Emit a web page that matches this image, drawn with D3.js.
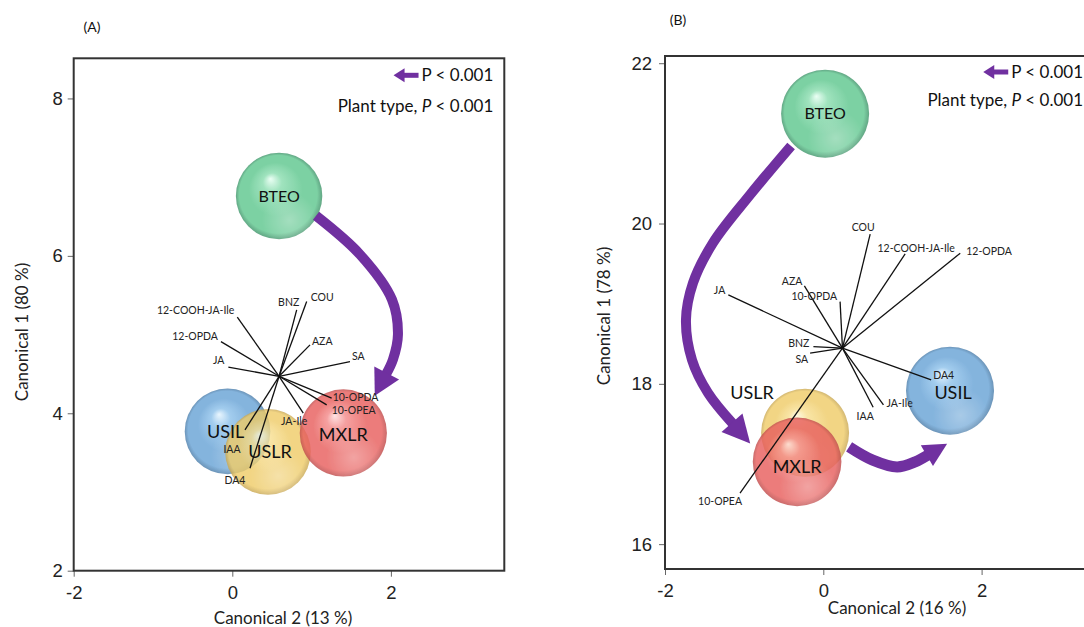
<!DOCTYPE html>
<html>
<head>
<meta charset="utf-8">
<script src="https://cdn.jsdelivr.net/npm/d3@7"></script>
<style>
  body { margin: 0; background: #fff; }
  svg { display: block; }
</style>
</head>
<body>
<svg id="chart" width="1084" height="627"></svg>
<script>
// ---------------- Panel A : canonical centroids and structure vectors ----------------
const groupNamesA  = ["BTEO", "USIL", "USLR", "MXLR"];
const groupXA      = [0.59, -0.06, 0.45, 1.40];
const groupYA      = [6.76, 3.77, 3.51, 3.75];
const groupRadiusA = [0.545, 0.54, 0.54, 0.55];

const variableNamesA = ["12-COOH-JA-Ile", "12-OPDA", "JA", "BNZ", "COU", "AZA", "SA",
                        "10-OPDA", "10-OPEA", "JA-Ile", "IAA", "DA4"];
const loadingXA = [0.063, -0.143, -0.050, 0.812, 0.938, 0.980, 1.484, 1.253, 1.190, 0.895, 0.160, 0.223];
const loadingYA = [5.221, 4.911, 4.586, 5.314, 5.420, 4.869, 4.657, 4.192, 4.107, 4.001, 3.789, 3.302];
const originA   = [0.59, 4.47];

// trajectory BTEO -> MXLR (canonical units)
const trendA = [[1.056, 6.509], [1.610, 6.017], [2.013, 5.445], [2.089, 5.003], [2.026, 4.684], [1.938, 4.494]];

const xTicksA = [-2, 0, 2];
const yTicksA = [2, 4, 6, 8];
const xDomainA = [-2, 3.43];
const yDomainA = [2, 8.51];

// ---------------- Panel B ----------------
const groupNamesB  = ["BTEO", "USIL", "USLR", "MXLR"];
const groupXB      = [0.023, 1.601, -0.23, -0.331];
const groupYB      = [21.37, 17.915, 17.39, 17.027];
const groupRadiusB = [0.556, 0.556, 0.556, 0.56];

const variableNamesB = ["COU", "12-COOH-JA-Ile", "12-OPDA", "JA", "AZA", "10-OPDA", "BNZ", "SA",
                        "DA4", "JA-Ile", "IAA", "10-OPEA"];
const loadingXB = [0.592, 1.034, 1.730, -1.200, -0.239, 0.212, -0.125, -0.167, 1.363, 0.760, 0.630, -1.052];
const loadingYB = [19.867, 19.621, 19.630, 19.110, 19.222, 19.026, 18.465, 18.383, 18.050, 17.738, 17.707, 16.636];
const originB   = [0.242, 18.445];

// trajectories BTEO -> MXLR and MXLR -> USIL
const trendB1 = [[-0.407, 20.968], [-0.926, 20.357], [-1.394, 19.758], [-1.646, 19.259],
                 [-1.735, 18.798], [-1.659, 18.299], [-1.457, 17.887], [-1.141, 17.500]];
const trendB2 = [[0.326, 17.214], [0.617, 17.052], [0.933, 16.964], [1.161, 17.027], [1.325, 17.114]];

const xTicksB = [-2, 0, 2];
const yTicksB = [16, 18, 20, 22];
const xDomainB = [-2, 3.42];
const yDomainB = [15.69, 22.09];

// ---------------- shared text ----------------
const panelTitles = ["(A)", "(B)"];
const xTitles = ["Canonical 2 (13 %)", "Canonical 2 (16 %)"];
const yTitles = ["Canonical 1 (80 %)", "Canonical 1 (78 %)"];
const legendArrowText = "P < 0.001";

// ---------------- styling ----------------
const PURPLE = "#7030a0";
const TEXT_FONT = "Lato, 'Open Sans', sans-serif";
const TICK_FONT = "'Liberation Sans', Arial, sans-serif";

const sphereColors = {
  BTEO: { hi: "#eafff4", mid: "#9be2bb", base: "#76cf9f", edge: "#5aa27e", op: 0.95 },
  USIL: { hi: "#e6f5ff", mid: "#94c5ec", base: "#70a8d8", edge: "#5483ad", op: 0.86 },
  USLR: { hi: "#fffadc", mid: "#f8df90", base: "#efcb66", edge: "#c8a650", op: 0.8 },
  MXLR: { hi: "#ffdede", mid: "#f48c8c", base: "#e8605e", edge: "#bf4c4c", op: 0.82 }
};

// label placement for the vector tips: [anchor, dx, dy] in pixels
const vecLabelA = {
  "12-COOH-JA-Ile": ["end", -3, -7], "12-OPDA": ["end", -3, -5], "JA": ["end", -4, -7],
  "BNZ": ["middle", -8, -8], "COU": ["start", 4, -4], "AZA": ["start", 2, -4],
  "SA": ["start", 2, -5], "10-OPDA": ["start", 1, -1], "10-OPEA": ["start", 5, 5],
  "JA-Ile": ["end", 4, 8], "IAA": ["middle", -13, 19], "DA4": ["middle", -15, 12]
};
const vecLabelB = {
  "COU": ["middle", -7, -7], "12-COOH-JA-Ile": ["middle", 11, -6], "12-OPDA": ["start", 6, -2],
  "JA": ["end", -3, -5], "AZA": ["end", -2, -5], "10-OPDA": ["end", -3, -5],
  "BNZ": ["end", -4, -3], "SA": ["end", -2, 6], "DA4": ["start", 2, -5],
  "JA-Ile": ["start", 3, -2], "IAA": ["middle", -8, 9], "10-OPEA": ["end", 2, 8]
};
// group label offsets (pixels) and sizes
const groupLabelA = { BTEO: [0, 0, 16], USIL: [-2, 0, 18], USLR: [2, 0, 18], MXLR: [0, 2, 18] };
const groupLabelB = { BTEO: [0, 0, 16], USIL: [3, 2, 18], USLR: [-53, -40, 18], MXLR: [0, 5, 18] };

const svg = d3.select("#chart");
const defs = svg.append("defs");

// sphere shading gradients
Object.entries(sphereColors).forEach(([k, c]) => {
  const g = defs.append("radialGradient").attr("id", "sph-" + k)
    .attr("cx", "50%").attr("cy", "50%").attr("r", "50%").attr("fx", "40%").attr("fy", "30%");
  g.append("stop").attr("offset", "0%").attr("stop-color", c.hi);
  g.append("stop").attr("offset", "22%").attr("stop-color", c.mid);
  g.append("stop").attr("offset", "62%").attr("stop-color", c.base);
  g.append("stop").attr("offset", "90%").attr("stop-color", c.base);
  g.append("stop").attr("offset", "100%").attr("stop-color", c.edge);
});
const glow = defs.append("radialGradient").attr("id", "sph-glow")
  .attr("cx", "62%").attr("cy", "78%").attr("r", "32%");
glow.append("stop").attr("offset", "0%").attr("stop-color", "#fff").attr("stop-opacity", 0.3);
glow.append("stop").attr("offset", "100%").attr("stop-color", "#fff").attr("stop-opacity", 0);
defs.append("filter").attr("id", "soft").attr("x", "-10%").attr("y", "-10%").attr("width", "120%").attr("height", "120%")
  .append("feGaussianBlur").attr("stdDeviation", 0.7);

function drawArrow(g, pts, x, y, width, headLen, headHalf) {
  const line = d3.line().x(d => x(d[0])).y(d => y(d[1])).curve(d3.curveCatmullRom.alpha(0.5));
  const path = g.append("path").attr("d", line(pts)).attr("fill", "none")
    .attr("stroke", PURPLE).attr("stroke-width", width).attr("stroke-linecap", "butt");
  const node = path.node();
  const L = node.getTotalLength();
  const p2 = node.getPointAtLength(L);
  const p1 = node.getPointAtLength(L - 5);
  let dx = p2.x - p1.x, dy = p2.y - p1.y;
  const n = Math.hypot(dx, dy); dx /= n; dy /= n;
  const tip = [p2.x + dx * headLen, p2.y + dy * headLen];
  const back = [p2.x - dx * 1.5, p2.y - dy * 1.5];
  const c1 = [back[0] - dy * headHalf, back[1] + dx * headHalf];
  const c2 = [back[0] + dy * headHalf, back[1] - dx * headHalf];
  g.append("path").attr("d", `M${tip}L${c1}L${c2}Z`).attr("fill", PURPLE);
}

function legendArrow(g, xTip, yc) {
  g.append("line").attr("x1", xTip + 9).attr("x2", xTip + 25).attr("y1", yc).attr("y2", yc)
    .attr("stroke", PURPLE).attr("stroke-width", 5);
  g.append("path").attr("d", `M${xTip},${yc}L${xTip + 11},${yc - 7}L${xTip + 11},${yc + 7}Z`).attr("fill", PURPLE);
}

function drawPanel(cfg) {
  const x = d3.scaleLinear().domain(cfg.xDomain).range([cfg.left, cfg.right]);
  const y = d3.scaleLinear().domain(cfg.yDomain).range([cfg.bottom, cfg.top]);
  const g = svg.append("g");

  // axes
  const ax = g.append("g").attr("transform", `translate(0,${cfg.bottom})`)
    .call(d3.axisBottom(x).tickValues(cfg.xTicks).tickSize(6).tickPadding(9).tickFormat(d3.format("d")));
  const ay = g.append("g").attr("transform", `translate(${cfg.left},0)`)
    .call(d3.axisLeft(y).tickValues(cfg.yTicks).tickSize(6).tickPadding(cfg.yPad).tickFormat(d3.format("d")));
  [ax, ay].forEach(a => {
    a.select(".domain").remove();
    a.selectAll(".tick line").attr("stroke", "#666");
    a.selectAll(".tick text").attr("font-family", TICK_FONT).attr("font-size", 18.5).attr("fill", "#222")
      .text(d => d < 0 ? "-" + Math.abs(d) : d);
  });

  // frame
  g.append("rect").attr("x", cfg.left).attr("y", cfg.top)
    .attr("width", cfg.right - cfg.left).attr("height", cfg.bottom - cfg.top)
    .attr("fill", "none").attr("stroke", "#333").attr("stroke-width", 2);

  // group spheres
  const rpx = r => x(r) - x(0);
  const spheres = g.append("g");
  cfg.groups.forEach((name, i) => {
    const c = sphereColors[name];
    const s = spheres.append("g").attr("opacity", c.op).attr("filter", "url(#soft)");
    s.append("circle").attr("cx", x(cfg.gx[i])).attr("cy", y(cfg.gy[i])).attr("r", rpx(cfg.gr[i]))
      .attr("fill", `url(#sph-${name})`);
    s.append("circle").attr("cx", x(cfg.gx[i])).attr("cy", y(cfg.gy[i])).attr("r", rpx(cfg.gr[i]))
      .attr("fill", "url(#sph-glow)");
  });

  // trajectories
  cfg.trends.forEach(t => drawArrow(g, t.pts, x, y, t.w, t.hl, t.hw));

  // structure vectors
  const ox = x(cfg.origin[0]), oy = y(cfg.origin[1]);
  cfg.vars.forEach((v, i) => {
    const ex = x(cfg.vx[i]), ey = y(cfg.vy[i]);
    g.append("line").attr("x1", ox).attr("y1", oy).attr("x2", ex).attr("y2", ey)
      .attr("stroke", "#111").attr("stroke-width", 1.3);
    const [anchor, dx, dy] = cfg.vlab[v];
    g.append("text").attr("x", ex + dx).attr("y", ey + dy).attr("dy", "0.35em")
      .attr("text-anchor", anchor).attr("font-family", TEXT_FONT).attr("font-size", 10.5)
      .attr("fill", "#222").text(v);
  });

  // group names
  cfg.groups.forEach((name, i) => {
    const [dx, dy, fs] = cfg.glab[name];
    g.append("text").attr("x", x(cfg.gx[i]) + dx).attr("y", y(cfg.gy[i]) + dy).attr("dy", "0.35em")
      .attr("text-anchor", "middle").attr("font-family", TEXT_FONT).attr("font-size", fs)
      .attr("fill", "#111").text(name);
  });

  // legend
  const lr = cfg.right - 11;
  const t1 = g.append("text").attr("x", lr).attr("y", cfg.top + cfg.leg1).attr("dy", "0.35em")
    .attr("text-anchor", "end").attr("font-family", TEXT_FONT).attr("font-size", 17).attr("fill", "#111")
    .text(legendArrowText);
  const w1 = t1.node().getComputedTextLength();
  legendArrow(g, lr - w1 - 28, cfg.top + cfg.leg1);
  const t2 = g.append("text").attr("x", lr).attr("y", cfg.top + cfg.leg2).attr("dy", "0.35em")
    .attr("text-anchor", "end").attr("font-family", TEXT_FONT).attr("font-size", 17).attr("fill", "#111");
  t2.append("tspan").text("Plant type, ");
  t2.append("tspan").attr("font-style", "italic").text("P");
  t2.append("tspan").text(" < 0.001");

  // titles
  g.append("text").attr("x", cfg.xt[0]).attr("y", cfg.xt[1]).attr("dy", "0.35em").attr("text-anchor", "middle")
    .attr("font-family", TEXT_FONT).attr("font-size", 17).attr("fill", "#222").text(cfg.xTitle);
  g.append("text").attr("transform", `translate(${cfg.yt[0]},${cfg.yt[1]}) rotate(-90)`).attr("dy", "0.35em")
    .attr("text-anchor", "middle").attr("font-family", TEXT_FONT).attr("font-size", 17).attr("fill", "#222")
    .text(cfg.yTitle);
  g.append("text").attr("x", cfg.pt[0]).attr("y", cfg.pt[1]).attr("dy", "0.35em").attr("text-anchor", "middle")
    .attr("font-family", TEXT_FONT).attr("font-size", 14).attr("fill", "#111").text(cfg.panelTitle);
}

drawPanel({
  left: 73.7, right: 504.3, top: 58.3, bottom: 570.7, yPad: 5,
  xDomain: xDomainA, yDomain: yDomainA, xTicks: xTicksA, yTicks: yTicksA,
  groups: groupNamesA, gx: groupXA, gy: groupYA, gr: groupRadiusA, glab: groupLabelA,
  vars: variableNamesA, vx: loadingXA, vy: loadingYA, origin: originA, vlab: vecLabelA,
  trends: [{ pts: trendA, w: 10, hl: 24, hw: 14 }],
  leg1: 17, leg2: 48,
  xTitle: xTitles[0], yTitle: yTitles[0], panelTitle: panelTitles[0],
  xt: [283, 618], yt: [22, 332], pt: [92, 27]
});

drawPanel({
  left: 665, right: 1094, top: 56, bottom: 569, yPad: 7,
  xDomain: xDomainB, yDomain: yDomainB, xTicks: xTicksB, yTicks: yTicksB,
  groups: groupNamesB, gx: groupXB, gy: groupYB, gr: groupRadiusB, glab: groupLabelB,
  vars: variableNamesB, vx: loadingXB, vy: loadingYB, origin: originB, vlab: vecLabelB,
  trends: [{ pts: trendB1, w: 10, hl: 26, hw: 14 }, { pts: trendB2, w: 11, hl: 22, hw: 12 }],
  leg1: 16, leg2: 44,
  xTitle: xTitles[1], yTitle: yTitles[1], panelTitle: panelTitles[1],
  xt: [897, 608], yt: [604, 316], pt: [678, 20]
});
</script>
</body>
</html>
